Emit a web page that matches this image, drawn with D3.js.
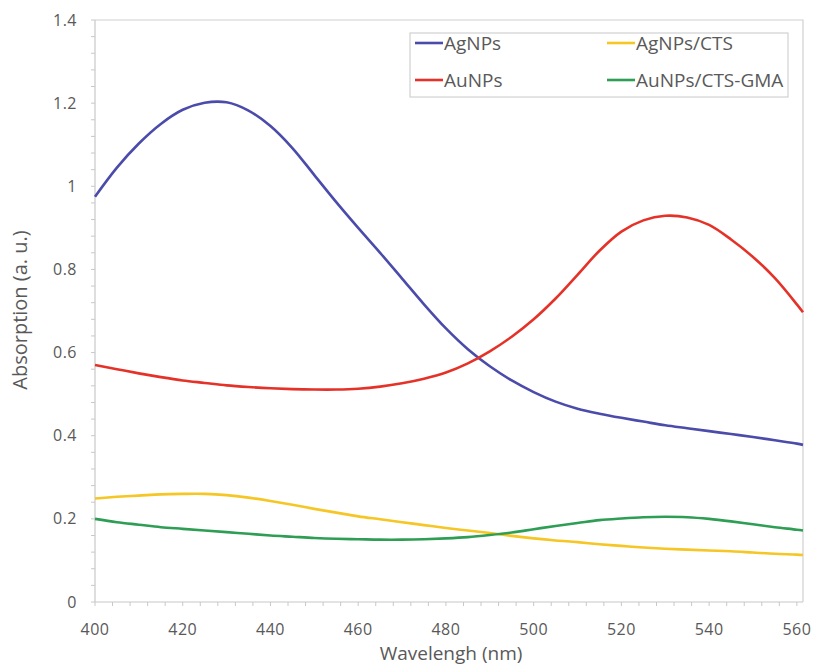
<!DOCTYPE html>
<html>
<head>
<meta charset="utf-8">
<script src="https://cdn.jsdelivr.net/npm/d3@7"></script>
<style>
  body { margin: 0; background: #fff; }
  svg { font-family: "Open Sans", sans-serif; }
</style>
</head>
<body>
<svg id="chart" width="815" height="668"></svg>
<script>
const wavelengths = [400,405,410,415,420,425,430,435,440,445,450,455,460,465,470,475,480,485,490,495,500,505,510,515,520,525,530,535,540,545,550,555,560,561.4];
const agNPs = [0.975,1.045,1.103,1.150,1.184,1.201,1.202,1.182,1.145,1.092,1.027,0.962,0.900,0.840,0.778,0.716,0.658,0.608,0.567,0.533,0.505,0.482,0.465,0.453,0.443,0.434,0.425,0.418,0.411,0.404,0.397,0.389,0.381,0.378];
const auNPs = [0.570,0.560,0.550,0.541,0.533,0.527,0.521,0.517,0.514,0.512,0.511,0.511,0.513,0.518,0.526,0.537,0.552,0.574,0.603,0.638,0.680,0.730,0.787,0.845,0.891,0.918,0.929,0.925,0.907,0.872,0.830,0.779,0.716,0.697];
const agNPsCTS = [0.249,0.253,0.256,0.259,0.260,0.260,0.257,0.251,0.243,0.234,0.224,0.215,0.206,0.199,0.192,0.185,0.178,0.172,0.166,0.159,0.153,0.148,0.144,0.139,0.135,0.131,0.128,0.126,0.124,0.122,0.119,0.116,0.114,0.113];
const auNPsCTSGMA = [0.200,0.192,0.186,0.180,0.176,0.172,0.168,0.164,0.160,0.157,0.154,0.152,0.151,0.150,0.150,0.151,0.153,0.156,0.161,0.167,0.175,0.183,0.190,0.197,0.201,0.204,0.205,0.204,0.200,0.194,0.187,0.180,0.174,0.172];
const seriesNames = ["AgNPs","AuNPs","AgNPs/CTS","AuNPs/CTS-GMA"];
const seriesColors = ["#4b4bab","#e53228","#f5c624","#2e9e55"];
const xTicks = [400,420,440,460,480,500,520,540,560];
const yTicks = [0,0.2,0.4,0.6,0.8,1,1.2,1.4];

const svg = d3.select("#chart");
const L = 95, R = 803, T = 20, B = 602;
const x = d3.scaleLinear().domain([400, 561.4]).range([L, R]);
const y = d3.scaleLinear().domain([0, 1.4]).range([B, T]);
const gridC = "#c8c8c8", textC = "#595959";

// frame (top, right)
svg.append("path").attr("d", `M${L},${T}H${R}V${B}`).attr("fill","none").attr("stroke","#d0d0d0").attr("stroke-width",1.2);

// y axis
const yMinor = d3.range(0, 1.4001, 0.04);
svg.append("line").attr("x1",L).attr("x2",L).attr("y1",T).attr("y2",B).attr("stroke",gridC).attr("stroke-width",1.2);
svg.selectAll(".ymt").data(yMinor).enter().append("line")
  .attr("x1",L-4).attr("x2",L).attr("y1",d=>y(d)).attr("y2",d=>y(d)).attr("stroke",gridC);
svg.selectAll(".ytl").data(yTicks).enter().append("text")
  .attr("x",77).attr("y",d=>y(d)).attr("dy","0.35em").attr("text-anchor","end")
  .attr("font-size",16).attr("letter-spacing",0.5).attr("fill",textC).text(d=>d3.format("")(d));

// x axis
const xMinor = d3.range(400, 561, 4);
svg.append("line").attr("x1",L).attr("x2",R).attr("y1",B).attr("y2",B).attr("stroke",gridC).attr("stroke-width",1.2);
svg.selectAll(".xmt").data(xMinor).enter().append("line")
  .attr("x1",d=>x(d)).attr("x2",d=>x(d)).attr("y1",B).attr("y2",B+4).attr("stroke",gridC);
svg.selectAll(".xtl").data(xTicks).enter().append("text")
  .attr("x",d=>x(d)).attr("y",629).attr("dy","0.35em").attr("text-anchor","middle")
  .attr("font-size",16).attr("letter-spacing",0.5).attr("fill",textC).text(d=>d);

// axis titles
svg.append("text").attr("x",451).attr("y",653).attr("dy","0.35em").attr("text-anchor","middle")
  .attr("font-size",19).attr("fill",textC).text("Wavelengh (nm)");
svg.append("text").attr("transform","translate(20,310) rotate(-90)").attr("dy","0.35em").attr("text-anchor","middle")
  .attr("font-size",20).attr("fill",textC).text("Absorption (a. u.)");

// lines
const allSeries = [agNPs, auNPs, agNPsCTS, auNPsCTSGMA];
const line = d3.line().x((d,i)=>x(wavelengths[i])).y(d=>y(d)).curve(d3.curveCatmullRom.alpha(0.5));
allSeries.forEach((s,k)=>{
  svg.append("path").datum(s).attr("d",line).attr("fill","none")
    .attr("stroke",seriesColors[k]).attr("stroke-width",2.6).attr("stroke-linejoin","round");
});

// legend
const lg = svg.append("g");
lg.append("rect").attr("x",410).attr("y",33).attr("width",378).attr("height",64)
  .attr("fill","#fff").attr("stroke","#c8c8c8").attr("stroke-width",1);
const legPos = [[415,43],[415,80],[607,43],[607,80]];
seriesNames.forEach((n,k)=>{
  const [lx,ly] = legPos[k];
  lg.append("line").attr("x1",lx).attr("x2",lx+28).attr("y1",ly).attr("y2",ly)
    .attr("stroke",seriesColors[k]).attr("stroke-width",2.6);
  lg.append("text").attr("x",lx+29).attr("y",ly).attr("dy","0.35em")
    .attr("font-size",19).attr("fill",textC).text(n);
});
</script>
</body>
</html>
